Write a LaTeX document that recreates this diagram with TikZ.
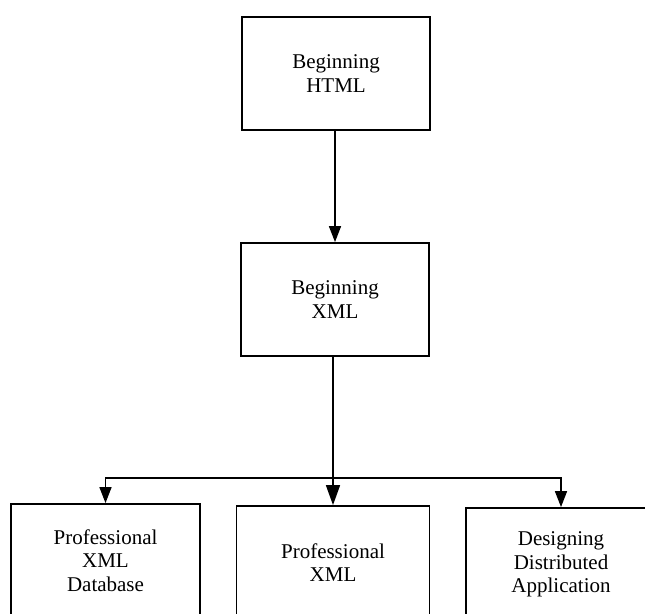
\documentclass[tikz,border=0pt]{standalone}
\usepackage{fontspec}
\setmainfont{Liberation Serif}
\usetikzlibrary{arrows.meta}
\begin{document}
\begin{tikzpicture}[x=1pt,y=1pt,
  bookbox/.style={draw=black, line width=1.8pt, rectangle, minimum width=188pt, minimum height=113pt,
    inner sep=0pt, align=center, font=\fontsize{21}{23.5}\selectfont},
  link/.style={line width=1.5pt, -{Triangle[length=16pt,width=12pt]}},
  biglink/.style={line width=1.5pt, -{Triangle[length=20pt,width=14pt]}}]
\useasboundingbox (0,0) rectangle (645,-613);
\clip (0,0) rectangle (645,-613);
\node[bookbox] (html) at (336,-73.5) {Beginning\\HTML};
\node[bookbox] (xml) at (335,-299.5) {Beginning\\XML};
\node[bookbox, minimum width=189pt] (db) at (105.5,-560.5) {Professional\\XML\\Database};
\node[bookbox, minimum width=193pt] (pro) at (333,-562.5) {Professional\\XML};
\node[bookbox, minimum width=190pt] (dist) at (561,-564.5) {Designing\\Distributed\\Application};
\coordinate (split) at (333,-478);
\draw[link] (html.south -| xml.north) -- (xml.north);
\draw[biglink] (xml.south -| pro.north) -- (pro.north);
\draw[link] (split) -| (db.north);
\draw[link] (split) -| (dist.north);
\end{tikzpicture}
\end{document}
